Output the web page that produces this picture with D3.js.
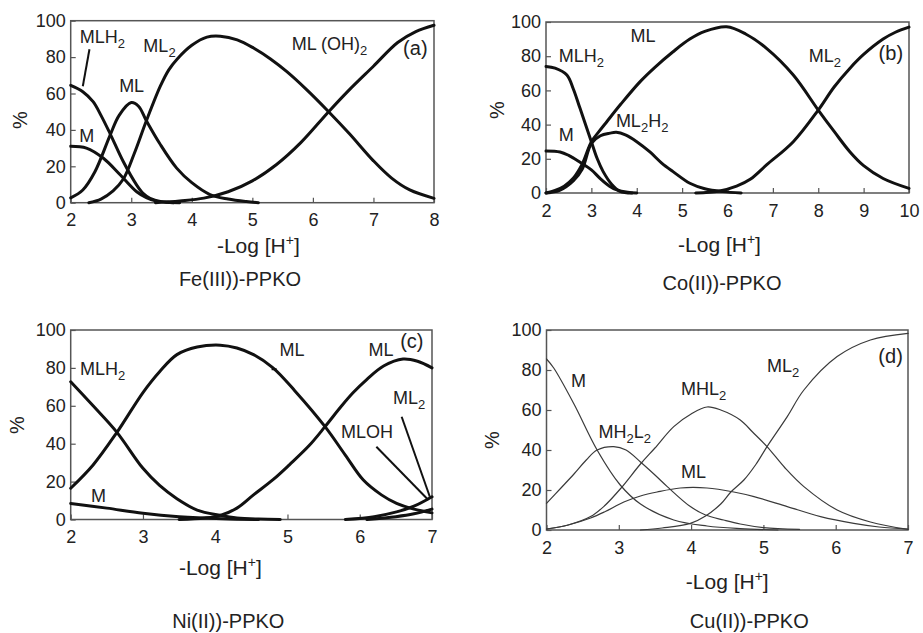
<!DOCTYPE html>
<html>
<head>
<meta charset="utf-8">
<script src="https://cdn.jsdelivr.net/npm/d3@7"></script>
<style>
  body { margin: 0; background: #fff; }
  svg { font-family: "Liberation Sans", Arial, sans-serif; }
  .tick text { font-size: 18px; fill: #222; }
  .tick line { stroke: #555; stroke-width: 1.2; }
</style>
</head>
<body>
<svg id="fig" width="923" height="633"></svg>
<script>
// ---- data: [-log[H+], %] ----
const yTicks = [0, 20, 40, 60, 80, 100];
const xTicksFe = [2, 3, 4, 5, 6, 7, 8];
const xTicksCo = [2, 3, 4, 5, 6, 7, 8, 9, 10];
const xTicksNiCu = [2, 3, 4, 5, 6, 7];

// (a) Fe(III)
const feMLH2 = [[2,64.5],[2.2,61],[2.37,55.5],[2.5,48],[2.65,38],[2.87,22.5],[3.09,9.7],[3.2,5],[3.31,2.4],[3.5,0.6],[3.7,0]];
const feM = [[2,31],[2.26,30],[2.54,24.4],[2.82,15.2],[3.09,6],[3.25,2.8],[3.4,1],[3.6,0.2],[3.8,0]];
const feML = [[2,2.7],[2.2,7],[2.4,17],[2.65,37],[2.8,48],[3.0,55],[3.12,53],[3.25,45],[3.47,32.5],[3.75,19],[4.0,11],[4.3,4.5],[4.6,2],[4.9,0.6],[5.1,0]];
const feML2 = [[2.3,0],[2.5,2],[2.7,6.5],[2.87,13],[3.05,27],[3.25,45],[3.48,64],[3.62,73],[3.76,79],[4.0,86.5],[4.25,91],[4.47,91.5],[4.75,89.5],[5.02,85],[5.3,79],[5.57,72],[5.9,62],[6.26,50],[6.6,38],[7.0,23],[7.3,13.5],[7.6,7],[8,2.4]];
const feMLOH2 = [[3.4,0],[3.8,1],[4.2,2.5],[4.6,6],[5.0,12],[5.4,21],[5.8,33],[6.26,50],[6.6,62],[7.0,75],[7.4,88],[7.7,94],[8,97.5]];

// (b) Co(II)
const coMLH2 = [[2,74],[2.2,73],[2.46,69],[2.6,61],[2.75,49.5],[3.0,30],[3.13,20],[3.26,12.5],[3.45,5],[3.63,1],[3.9,0]];
const coM = [[2,24.6],[2.31,24],[2.5,22],[2.75,18],[3.0,13.5],[3.19,8.6],[3.4,4],[3.56,1.8],[3.8,0.4],[4.0,0]];
const coML = [[2,0],[2.2,1.5],[2.4,4],[2.6,8.6],[2.8,17],[3.0,30],[3.17,36],[3.34,41.7],[3.65,52],[4.07,65],[4.4,73.5],[4.8,82.6],[5.17,90],[5.5,94.5],[5.98,97.2],[6.4,93],[6.86,84.6],[7.45,69],[8.0,48.5],[8.35,36],[8.7,24],[9.0,16],[9.43,8.5],[10,2.7]];
const coML2H2 = [[2,0],[2.3,1.5],[2.6,7],[2.8,14],[3.0,29],[3.2,33.5],[3.41,35],[3.55,35.5],[3.75,34],[4.0,30],[4.29,24],[4.55,17.5],[4.8,12.5],[5.17,5.7],[5.5,2.5],[5.9,0.8],[6.3,0]];
const coML2 = [[5.3,0],[5.8,1],[6.2,4],[6.5,8],[6.86,16.4],[7.45,30],[8.0,48.5],[8.35,62],[8.7,73],[9.0,81],[9.43,90],[9.7,94],[10,97]];

// (c) Ni(II)
const niMLH2 = [[2,72.7],[2.31,60],[2.64,46],[3.0,27],[3.23,18],[3.47,11],[3.75,5],[4.07,2.2],[4.3,0.8],[4.6,0.2],[4.9,0]];
const niML = [[2,16.5],[2.31,28.8],[2.64,46],[3.0,67],[3.23,78],[3.47,87],[3.75,91],[4.07,92],[4.3,90.5],[4.53,87],[4.8,80],[5.1,68],[5.52,49],[5.8,34],[6.05,20.8],[6.3,13],[6.51,8.5],[6.75,5.5],[7,3.5]];
const niM = [[2,8.5],[2.5,6],[3.0,3.3],[3.5,1.5],[4.1,0.4],[4.6,0]];
const niML_2nd = [[3.5,0],[3.85,0.8],[4.07,2.2],[4.3,6],[4.53,13],[4.8,21],[5.03,29],[5.3,39],[5.52,49],[5.75,60],[5.91,67],[6.1,74],[6.33,81],[6.6,84.7],[6.8,83.5],[7,80]];
const niMLOH = [[5.8,0],[6.2,1.5],[6.51,4],[6.75,7],[7,12]];
const niML2 = [[6.1,0],[6.5,1.5],[6.75,3],[7,5.5]];

// (d) Cu(II)
const cuM = [[2,85.5],[2.1,81],[2.38,63],[2.7,40],[3.02,22.5],[3.3,13],[3.76,5],[4.22,2],[4.68,0.7],[5.2,0]];
const cuMH2L2 = [[2,13.3],[2.2,21],[2.38,28],[2.55,35],[2.7,40],[2.93,41.7],[3.1,40],[3.3,34],[3.5,27.5],[3.67,21.7],[3.99,11.7],[4.2,7.5],[4.45,5],[4.68,3],[5.0,1.2],[5.5,0.3]];
const cuMHL2 = [[2,0.5],[2.3,2.5],[2.61,6.7],[2.8,12],[3.02,20.5],[3.3,33],[3.5,41],[3.76,51.7],[4.0,58],[4.22,61.5],[4.41,60],[4.68,55],[4.85,49],[5.05,41.7],[5.3,31],[5.56,21.7],[6.02,10],[6.48,4],[7,0.3]];
const cuML = [[2,0.5],[2.3,2.5],[2.61,6],[2.8,9],[3.07,14],[3.3,17],[3.53,19],[3.85,21],[4.22,21],[4.59,19],[4.87,16.7],[5.33,11.7],[5.79,6.7],[6.25,3.3],[6.6,1.5],[7,0.5]];
const cuML2 = [[3.3,0],[3.6,1],[3.99,3.3],[4.2,7],[4.41,13],[4.55,19],[4.73,25],[4.9,33],[5.05,41.7],[5.33,56.7],[5.56,70],[6.02,86.7],[6.48,95],[7,98.3]];

// species labels: [text, x, %]   ("_" = subscript)
const feLabels = [["MLH_2",2.15,87.7],["ML_2",3.2,83],["ML",2.8,61],["M",2.14,33.5],["ML (OH)_2",5.65,84],["(a)",7.49,81]];
const coLabels = [["MLH_2",2.28,76.8],["ML",3.86,88.5],["ML_2H_2",3.54,38.8],["M",2.28,30.6],["ML_2",7.79,76.8],["(b)",9.33,77.8]];
const niLabels = [["MLH_2",2.13,76.3],["ML",4.89,86.3],["ML",6.12,86.3],["(c)",6.56,90.3],["ML_2",6.46,61],["MLOH",5.74,42.8],["M",2.28,9.4]];
const cuLabels = [["M",2.34,71.4],["MHL_2",3.86,67.5],["MH_2L_2",2.72,45.9],["ML",3.86,26.2],["ML_2",5.05,79.2],["(d)",6.59,83.4]];

// leader lines: [x1, %1, x2, %2]
const feLeaders = [[2.31,84.3,2.2,64]];
const niLeaders = [[6.23,38.4,6.95,10.3],[6.58,54.2,6.97,12],[4.78,79.3,4.85,79.3]];

const panels = [
  { box: [70.7, 20.7, 434, 202.7], xDomain: [2, 8], xTicks: xTicksFe,
    series: [feMLH2, feM, feML, feML2, feMLOH2], labels: feLabels, leaders: feLeaders,
    thin: false, titleDx: 6, titleDy: 50.6, capX: 240, capDy: 83, capText: "Fe(III))-PPKO", pct: [20, 120] },
  { box: [546, 22, 909, 193], xDomain: [2, 10], xTicks: xTicksCo,
    series: [coMLH2, coM, coML, coML2H2, coML2], labels: coLabels, leaders: [],
    thin: false, titleDx: -8, titleDy: 58.7, capX: 722, capDy: 97, capText: "Co(II))-PPKO", pct: [497, 110] },
  { box: [70.7, 330, 432, 519.5], xDomain: [2, 7], xTicks: xTicksNiCu,
    series: [niMLH2, niML, niM, niML_2nd, niMLOH, niML2], labels: niLabels, leaders: niLeaders,
    thin: false, titleDx: -31, titleDy: 55.5, capX: 228.3, capDy: 108.5, capText: "Ni(II))-PPKO", pct: [17, 425] },
  { box: [546.5, 330, 908, 530], xDomain: [2, 7], xTicks: xTicksNiCu,
    series: [cuM, cuMH2L2, cuMHL2, cuML, cuML2], labels: cuLabels, leaders: [],
    thin: true, titleDx: 0, titleDy: 59.3, capX: 749.3, capDy: 98, capText: "Cu(II))-PPKO", pct: [492, 440] }
];

const svg = d3.select("#fig");

function addRichText(sel, str, subSize) {
  const parts = str.split(/_(\w)/);
  parts.forEach((p, i) => {
    if (p === "") return;
    if (i % 2 === 1) {
      sel.append("tspan").attr("font-size", subSize).attr("dy", 5).text(p);
    } else {
      const t = sel.append("tspan").text(p);
      if (i > 0) t.attr("dy", -5);
    }
  });
}

panels.forEach(p => {
  const [x0, y0, x1, y1] = p.box;
  const x = d3.scaleLinear().domain(p.xDomain).range([x0, x1]);
  const y = d3.scaleLinear().domain([0, 100]).range([y1, y0]);
  const g = svg.append("g");

  // axes with inward ticks
  const xa = g.append("g")
    .attr("transform", `translate(0,${y1})`)
    .call(d3.axisBottom(x).tickValues(p.xTicks).tickSize(-5).tickPadding(11).tickFormat(d3.format("d")));
  xa.select(".domain").remove();

  const ya = g.append("g")
    .attr("transform", `translate(${x0},0)`)
    .call(d3.axisLeft(y).tickValues(yTicks).tickSize(-5).tickPadding(5));
  ya.select(".domain").remove();

  // frame
  g.append("rect")
    .attr("x", x0).attr("y", y0)
    .attr("width", x1 - x0).attr("height", y1 - y0)
    .attr("fill", "none").attr("stroke", "#555").attr("stroke-width", 1.5);

  // curves
  const line = d3.line()
    .x(d => x(d[0]))
    .y(d => y(Math.max(0, d[1])))
    .curve(d3.curveCatmullRom.alpha(0.5));

  g.append("g")
    .selectAll("path")
    .data(p.series)
    .enter()
    .append("path")
    .attr("d", line)
    .attr("fill", "none")
    .attr("stroke", p.thin ? "#3a3a3a" : "#111")
    .attr("stroke-width", p.thin ? 1.2 : 3)
    .attr("stroke-linejoin", "round")
    .attr("stroke-linecap", "round");

  // leader lines
  g.append("g")
    .selectAll("line")
    .data(p.leaders)
    .enter()
    .append("line")
    .attr("x1", d => x(d[0])).attr("y1", d => y(d[1]))
    .attr("x2", d => x(d[2])).attr("y2", d => y(d[3]))
    .attr("stroke", "#111").attr("stroke-width", 2);

  // species labels
  p.labels.forEach(l => {
    const t = g.append("text")
      .attr("x", x(l[1])).attr("y", y(l[2]))
      .attr("font-size", l[0].startsWith("(") ? 20 : 18)
      .attr("fill", "#222");
    addRichText(t, l[0], 13);
  });

  // axis title
  const tt = g.append("text")
    .attr("x", (x0 + x1) / 2 + p.titleDx)
    .attr("y", y1 + p.titleDy)
    .attr("text-anchor", "middle")
    .attr("font-size", 21)
    .attr("fill", "#222");
  tt.append("tspan").text("-Log [H");
  tt.append("tspan").attr("font-size", 14).attr("dy", -8).text("+");
  tt.append("tspan").attr("dy", 8).text("]");

  // % label
  svg.append("text")
    .attr("transform", `translate(${p.pct[0]},${p.pct[1]}) rotate(-90)`)
    .attr("text-anchor", "middle")
    .attr("dy", "0.35em")
    .attr("font-size", 20)
    .attr("fill", "#222")
    .text("%");

  // caption
  svg.append("text")
    .attr("x", p.capX)
    .attr("y", y1 + p.capDy)
    .attr("text-anchor", "middle")
    .attr("font-size", 20)
    .attr("fill", "#222")
    .text(p.capText);
});
</script>
</body>
</html>
